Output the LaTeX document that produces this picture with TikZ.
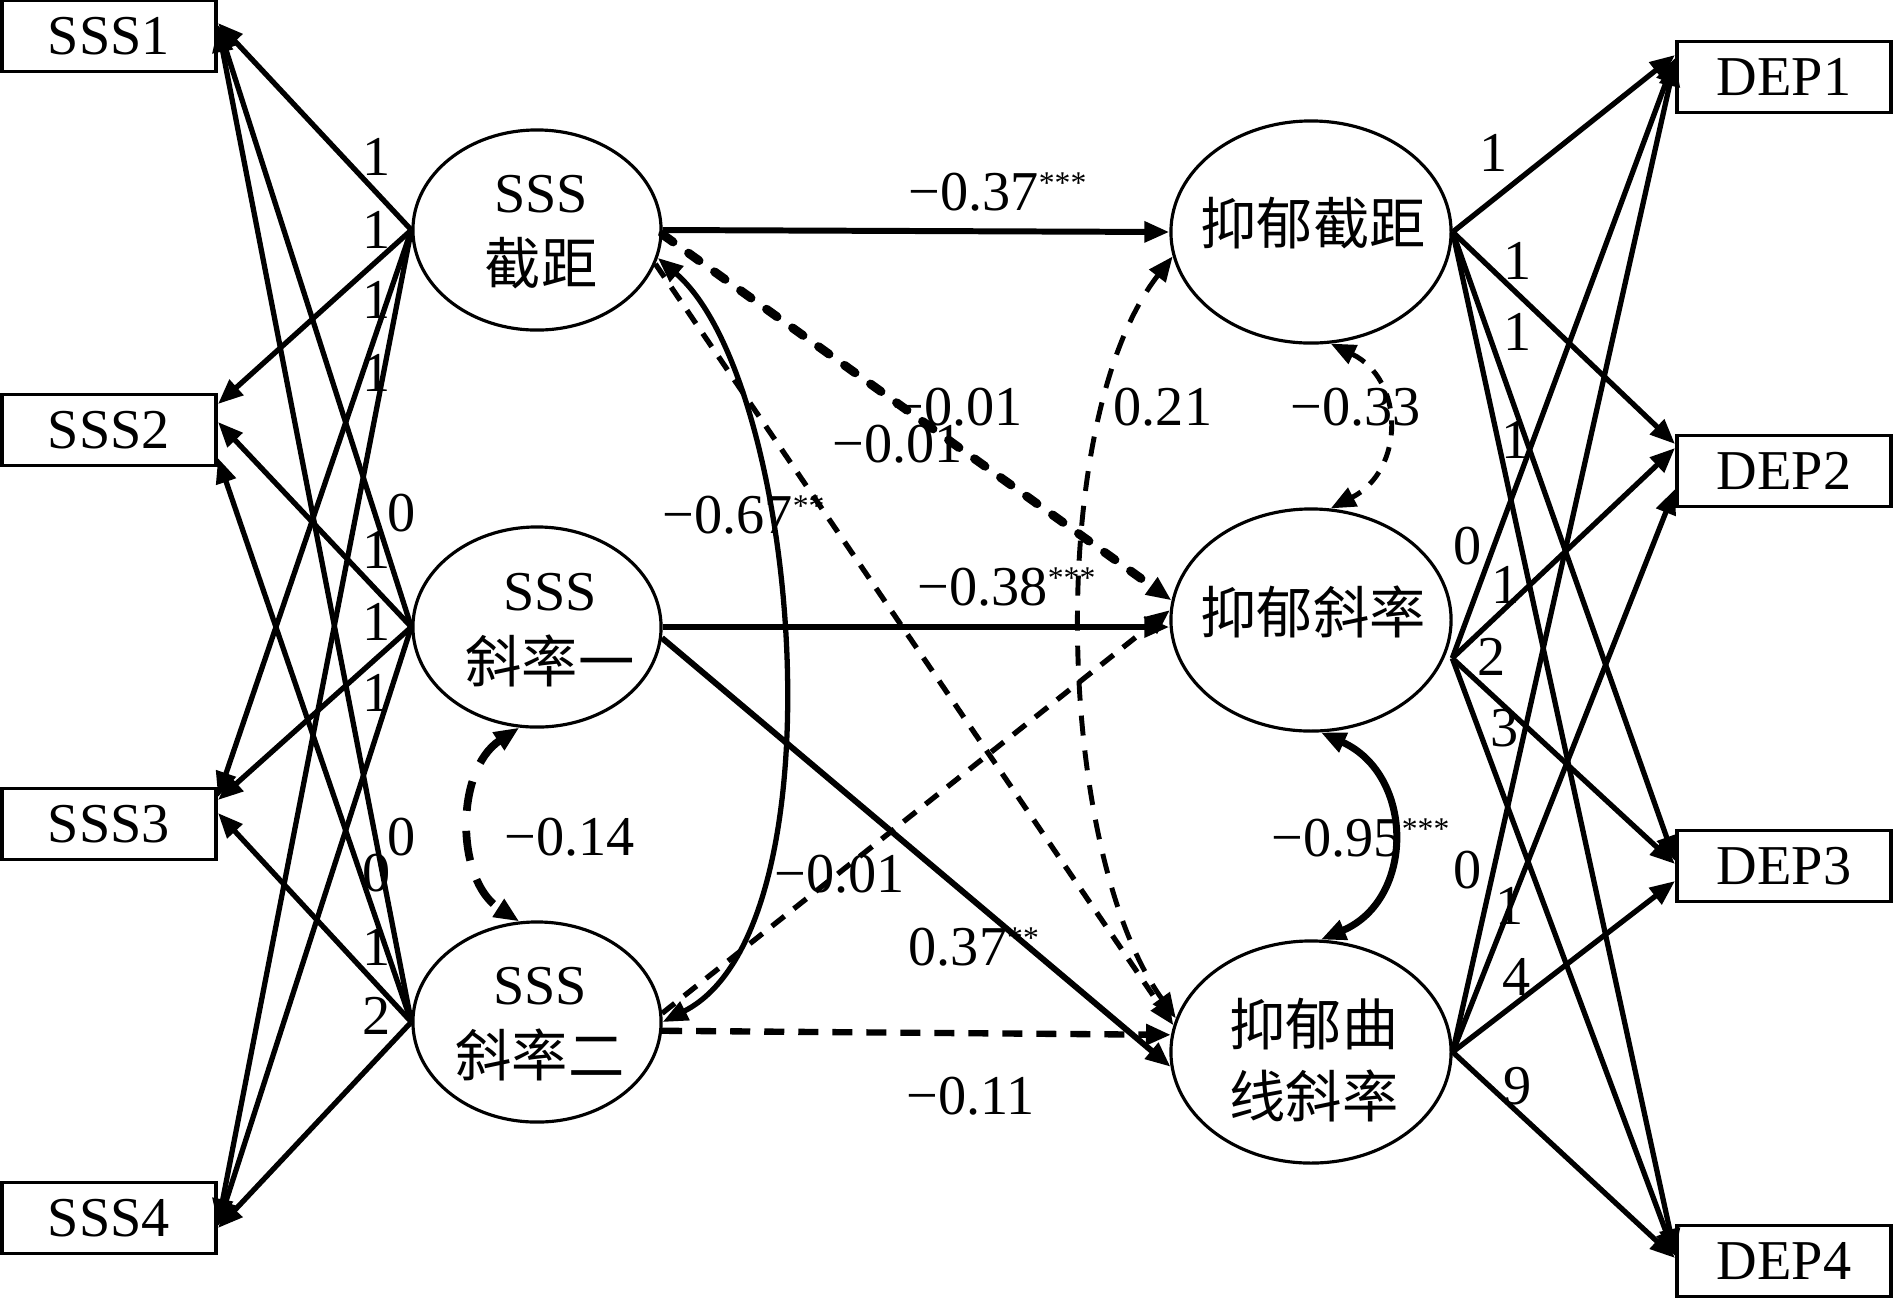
\documentclass[tikz,border=0pt]{standalone}
\usepackage{fontspec}
\setmainfont{Liberation Serif}
\newfontfamily\cjk{Noto Sans CJK SC}
\usetikzlibrary{shapes.geometric,arrows.meta}
\newcommand\sig[1]{\raisebox{4.6pt}{\fontsize{9}{9}\selectfont #1}}
\begin{document}
\begin{tikzpicture}[x=0.01cm,y=-0.01cm,
  every node/.style={font=\fontsize{16}{20.5}\selectfont, inner sep=0pt},
  >={Triangle[length=0.25cm,width=0.2cm]},
  obs/.style={draw, line width=1.1pt, minimum width=2.14cm, minimum height=0.71cm},
  lat/.style={draw, ellipse, line width=0.9pt},
  latL/.style={lat, minimum width=2.48cm, minimum height=2cm},
  latR/.style={lat, minimum width=2.8cm, minimum height=2.22cm},
  ld/.style={line width=1.5pt, ->},
  sol/.style={line width=1.7pt, ->},
  dsh/.style={line width=1.5pt, dash pattern=on 0.16cm off 0.12cm, ->},
  dshH/.style={line width=1.8pt, dash pattern=on 0.2cm off 0.14cm, ->},
  dshB/.style={line width=2.5pt, line cap=round, dash pattern=on 0.13cm off 0.19cm, ->},
  lab/.style={anchor=base west}
]
\useasboundingbox (0,0) rectangle (1894,1299);

% observed indicators
\node[obs] (b1) at (109,36) {SSS1};
\node[obs] (b2) at (109,430) {SSS2};
\node[obs] (b3) at (109,824) {SSS3};
\node[obs] (b4) at (109,1218) {SSS4};
\node[obs] (e1) at (1784,77) {DEP1};
\node[obs] (e2) at (1784,471) {DEP2};
\node[obs] (e3) at (1784,866) {DEP3};
\node[obs] (e4) at (1784,1261) {DEP4};

% latent factors
\node[latL] (sI) at (537,230) {};
\node[latL] (sS1) at (537,627) {};
\node[latL] (sS2) at (537,1022) {};
\node[latR] (dI) at (1311,232) {};
\node[latR] (dS) at (1311,620) {};
\node[latR] (dC) at (1311,1052) {};
\node[align=center] (tsI) at (541,232) {SSS\\{\cjk 截距}};
\node[align=center] (tsS1) at (550,630) {SSS\\{\cjk 斜率一}};
\node[align=center] (tsS2) at (540,1024) {SSS\\{\cjk 斜率二}};
\node (tdI) at (1313,223) {\cjk 抑郁截距};
\node (tdS) at (1313,612) {\cjk 抑郁斜率};
\node[align=center] (tdC) at (1314,1060) {\cjk 抑郁曲\\\cjk 线斜率};

% left loadings
\draw[ld] (sI.west) -- ([yshift=0.13cm]b1.east);
\draw[ld] (sI.west) -- ([yshift=0.26cm]b2.east);
\draw[ld] (sI.west) -- ([yshift=0.27cm]b3.east);
\draw[ld] (sI.west) -- ([yshift=-0.06cm]b4.east);
\draw[ld] (sS1.west) -- ([yshift=0.11cm]b1.east);
\draw[ld] (sS1.west) -- ([yshift=0.08cm]b2.east);
\draw[ld] (sS1.west) -- ([yshift=0.24cm]b3.east);
\draw[ld] (sS1.west) -- ([yshift=-0.08cm]b4.east);
\draw[ld] (sS2.west) -- ([yshift=0.09cm]b1.east);
\draw[ld] (sS2.west) -- ([yshift=-0.28cm]b2.east);
\draw[ld] (sS2.west) -- ([yshift=0.11cm]b3.east);
\draw[ld] (sS2.west) -- ([yshift=-0.10cm]b4.east);

% right loadings
\draw[ld] (dI.east) -- ([yshift=0.22cm]e1.west);
\draw[ld] (dI.east) -- ([yshift=0.27cm]e2.west);
\draw[ld] (dI.east) -- ([yshift=0.05cm]e3.west);
\draw[ld] (dI.east) -- ([yshift=0.07cm]e4.west);
\draw[ld] ([xshift=0.08cm]dS.-16) -- ([yshift=0.19cm]e1.west);
\draw[ld] ([xshift=0.08cm]dS.-16) -- ([yshift=0.23cm]e2.west);
\draw[ld] ([xshift=0.08cm]dS.-16) -- ([yshift=0.02cm]e3.west);
\draw[ld] ([xshift=0.08cm]dS.-16) -- ([yshift=0.05cm]e4.west);
\draw[ld] (dC.east) -- ([yshift=0.16cm]e1.west);
\draw[ld] (dC.east) -- ([yshift=-0.18cm]e2.west);
\draw[ld] (dC.east) -- ([yshift=-0.15cm]e3.west);
\draw[ld] (dC.east) -- ([yshift=0.03cm]e4.west);

% structural paths
\draw[sol] (sI.east) -- (dI.west);
\draw[sol] (sS1.east) -- (sS1.east -| dS.west);
\draw[sol] (sS1.-5) -- (dC.186);
\draw[dshH] (sS2.-4) -- (dC.173);
\draw[dshB] (sI.-2) -- (dS.172);
\draw[dsh] (sI.-16) -- (dC.169);
\draw[dsh] (sS2.4) -- (dS.176);

% covariances
\draw[line width=1.5pt, <->] (sI.-13) .. controls (800,380) and (845,930) .. (sS2.east);
\draw[line width=2.2pt, dash pattern=on 0.3cm off 0.2cm, <->] (sS1.-100) .. controls (455,770) and (455,880) .. (sS2.100);
\draw[line width=1.4pt, dash pattern=on 0.15cm off 0.12cm, <->] (dI.-80) .. controls (1405,380) and (1405,470) .. (dS.80);
\draw[line width=2pt, <->] (dS.-85) .. controls (1415,775) and (1415,900) .. (dC.85);
\draw[line width=1.4pt, dash pattern=on 0.2cm off 0.15cm, <->] (dI.190) .. controls (1045,420) and (1055,850) .. (dC.166);

% path labels
\node[lab] (p1) at (908,210) {−0.37\sig{***}};
\node[lab] (p2) at (917,605) {−0.38\sig{***}};
\node[lab] (p3) at (908,965) {0.37\sig{**}};
\node[lab] (p4) at (906,1114) {−0.11};
\node[lab] (p5) at (892,425) {−0.01};
\node[lab] (p6) at (832,462) {−0.01};
\node[lab] (p7) at (774,892) {−0.01};
\node[lab] (p8) at (662,533) {−0.67\sig{**}};
\node[lab] (p9) at (504,855) {−0.14};
\node[lab] (p10) at (1113,425) {0.21};
\node[lab] (p11) at (1290,425) {−0.33};
\node[lab] (p12) at (1271,856) {−0.95\sig{***}};

% loading labels left
\node (a1) at (377,157) {1};
\node (a2) at (377,230) {1};
\node (a3) at (377,300) {1};
\node (a4) at (377,373) {1};
\node (a5) at (402,513) {0};
\node (a6) at (377,550) {1};
\node (a7) at (377,622) {1};
\node (a8) at (377,693) {1};
\node (a9) at (402,837) {0};
\node (a10) at (377,873) {0};
\node (a11) at (377,947) {1};
\node (a12) at (377,1016) {2};

% loading labels right
\node (c1) at (1494,153) {1};
\node (c2) at (1518,261) {1};
\node (c3) at (1518,332) {1};
\node (c4) at (1516,440) {1};
\node (c5) at (1468,546) {0};
\node (c6) at (1506,585) {1};
\node (c7) at (1492,657) {2};
\node (c8) at (1505,728) {3};
\node (c9) at (1468,870) {0};
\node (c10) at (1510,906) {1};
\node (c11) at (1517,977) {4};
\node (c12) at (1518,1086) {9};
\end{tikzpicture}
\end{document}
